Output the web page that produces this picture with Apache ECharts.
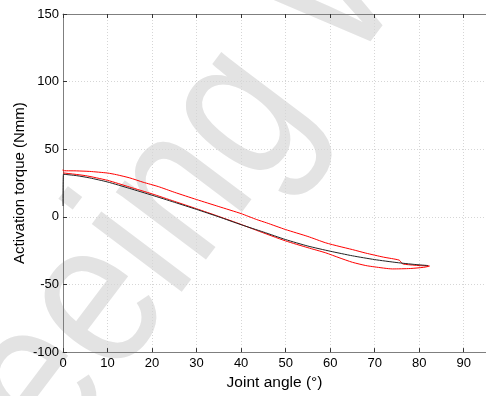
<!DOCTYPE html>
<html>
<head>
<meta charset="utf-8">
<script src="https://cdn.jsdelivr.net/npm/echarts@6/dist/echarts.min.js"></script>
<style>
  html, body { margin: 0; padding: 0; background: #fff; }
  #chart { width: 486px; height: 396px; }
</style>
</head>
<body>
<div id="chart"></div>
<script>
// measured (black) activation torque vs joint angle
const measuredAngle = [0, 0.1, 3, 6, 10, 15, 20, 25, 30, 35, 40, 45, 50, 55, 60, 65, 70, 75, 79, 82]
const measuredTorque = [8, 31.5, 30.5, 28.8, 25.8, 21, 16, 10.8, 5.5, 0, -5.8, -11.2, -16.8, -21.6, -25.4, -28.8, -31.6, -33.8, -35.2, -36]

// model (red) loop: out along lower branch, back along upper branch
const modelAngle = [0, 5, 10, 15, 20, 25, 30, 35, 40, 43.5, 50, 55, 59, 62, 65, 68, 70, 74, 78, 81, 82.3,
  80, 77, 76.2, 75.5, 72, 68, 65, 62, 59, 55, 50, 45.7, 43.5, 40, 35, 30, 25, 21.4, 18, 15, 12, 10, 6, 3, 0, 0]
const modelTorque = [32.5, 30.5, 27, 22, 17, 11.5, 6, 0.3, -5.6, -10, -17.8, -22.8, -26.6, -30.2, -33.6, -36, -37, -38.5, -38.2, -37.3, -36.4,
  -36, -35.2, -34.6, -32, -29.8, -26.8, -24.2, -21.8, -19.2, -14.5, -9.4, -4.4, -2, 2.4, 7.6, 12.8, 18.2, 22.4, 25.6, 28.8, 31.2, 32.4, 33.6, 34, 34.2, 35]

const xTicks = [0, 95, 10]
const yTicks = [-100, 150, 50]

const watermark = 'Seeing W'

const chart = echarts.init(document.getElementById('chart'))

const pairs = (xs, ys) => xs.map((x, i) => [x, ys[i]])

const gridLine = { show: true, lineStyle: { color: '#d6d6d6', type: [1, 2], width: 1 } }
const axisText = { color: '#000', fontFamily: 'Liberation Sans', fontSize: 13 }
const axisLineStyle = { color: '#7f7f7f', width: 1 }
const tickStyle = { show: true, inside: true, length: 4, lineStyle: { color: '#333' } }

chart.setOption({
  animation: false,
  backgroundColor: '#fff',
  graphic: [{
    type: 'text',
    x: -149,
    y: 456,
    rotation: 53 * Math.PI / 180,
    scaleX: 0.84,
    z: -1,
    silent: true,
    style: {
      text: watermark,
      font: '213px "Liberation Sans"',
      textAlign: 'left',
      textBaseline: 'alphabetic',
      fill: '#e3e3e3',
    },
  }],
  grid: { left: 63, right: -7, top: 14, bottom: 43 },
  xAxis: [{
    type: 'value',
    min: xTicks[0],
    max: xTicks[1],
    interval: xTicks[2],
    name: 'Joint angle (°)',
    nameLocation: 'middle',
    nameGap: 20,
    nameTextStyle: { ...axisText, fontSize: 15.5 },
    axisLine: { show: true, onZero: false, lineStyle: axisLineStyle },
    axisTick: tickStyle,
    axisLabel: { ...axisText, margin: 5, showMaxLabel: false },
    splitLine: gridLine,
  }, {
    type: 'value',
    position: 'top',
    min: xTicks[0],
    max: xTicks[1],
    interval: xTicks[2],
    axisLine: { show: true, onZero: false, lineStyle: axisLineStyle },
    axisTick: tickStyle,
    axisLabel: { show: false },
    splitLine: { show: false },
  }],
  yAxis: {
    type: 'value',
    min: yTicks[0],
    max: yTicks[1],
    interval: yTicks[2],
    name: 'Activation torque (Nmm)',
    nameLocation: 'middle',
    nameGap: 36,
    nameMoveOverlap: false,
    nameTextStyle: { ...axisText, fontSize: 15 },
    axisLine: { show: true, onZero: false, lineStyle: axisLineStyle },
    axisTick: tickStyle,
    axisLabel: { ...axisText, margin: 4 },
    splitLine: gridLine,
  },
  series: [{
    type: 'line',
    data: pairs(modelAngle, modelTorque),
    showSymbol: false,
    smooth: 0.2,
    lineStyle: { color: '#ff0000', width: 1 },
    z: 3,
  }, {
    type: 'line',
    data: pairs(measuredAngle, measuredTorque),
    showSymbol: false,
    smooth: 0.2,
    lineStyle: { color: '#222', width: 1 },
    z: 4,
  }],
})
</script>
</body>
</html>
